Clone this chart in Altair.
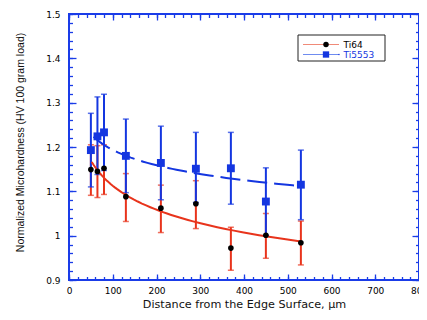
import altair as alt
import pandas as pd

# ---- data ----
dist = [50, 65, 80, 130, 210, 290, 370, 450, 530]

ti64 = [1.149, 1.145, 1.152, 1.088, 1.062, 1.072, 0.972, 1.001, 0.984]
ti64_lo = [1.091, 1.086, 1.093, 1.032, 1.007, 1.016, 0.922, 0.949, 0.934]
ti64_hi = [1.205, 1.203, 1.205, 1.140, 1.114, 1.124, 1.019, 1.050, 1.033]

ti5553 = [1.193, 1.224, 1.233, 1.180, 1.164, 1.151, 1.152, 1.077, 1.115]
ti5553_lo = [1.110, 1.138, 1.147, 1.097, 1.081, 1.075, 1.071, 1.001, 1.036]
ti5553_hi = [1.276, 1.313, 1.319, 1.263, 1.247, 1.233, 1.233, 1.153, 1.193]

names = ["Ti64", "Ti5553"]

x_major = [0, 100, 200, 300, 400, 500, 600, 700, 800]
x_minor = list(range(0, 801, 20))
y_major = [0.9, 1.0, 1.1, 1.2, 1.3, 1.4, 1.5]
y_minor = [round(0.9 + 0.02 * i, 2) for i in range(31)]

BLUE = "#1436e0"
RED = "#e8341c"
FRAME = "#1a3ce8"

df64 = pd.DataFrame({"x": dist, "y": ti64, "lo": ti64_lo, "hi": ti64_hi})
df55 = pd.DataFrame({"x": dist, "y": ti5553, "lo": ti5553_lo, "hi": ti5553_hi})

xscale = alt.Scale(domain=[0, 800], nice=False, zero=False)
yscale = alt.Scale(domain=[0.9, 1.5], nice=False, zero=False)


def ax(orient, values, size, labels, **kw):
    return alt.Axis(orient=orient, values=values,
                    tickSize=alt.ExprRef(expr=str(-size)),
                    labels=labels, domain=False, grid=False, ticks=True,
                    tickColor=FRAME, tickWidth=1.3, **kw)


ax_bottom = ax("bottom", x_major, 6, True, labelPadding=12, labelFlush=False,
               labelFont="DejaVu Sans", labelFontSize=9, labelColor="black",
               title="Distance from the Edge Surface, \u03bcm",
               titleFont="DejaVu Sans", titleFontSize=11.2, titleFontWeight="normal",
               titleColor="#111111", titleY=18, titleBaseline="top")
ax_left = ax("left", y_major, 7, True, labelPadding=16, format="~g", labelFlush=False,
             labelFont="DejaVu Sans", labelFontSize=9, labelColor="black",
             title="Normalized Microhardness (HV 100 gram load)",
             titleFont="Liberation Sans", titleFontSize=10.5, titleFontWeight="normal",
             titleColor="#111111", titleX=-46, titleY=128, titleAngle=270,
             titleAlign="center", titleBaseline="alphabetic")
ax_bottom_min = ax("bottom", x_minor, 3.5, False, title=None)
ax_left_min = ax("left", y_minor, 3.5, False, title=None)
ax_top = ax("top", x_major, 6, False, title=None)
ax_right = ax("right", y_major, 7, False, title=None)
ax_top_min = ax("top", x_minor, 3.5, False, title=None)
ax_right_min = ax("right", y_minor, 3.5, False, title=None)


def X(field, axis=None):
    return alt.X(f"{field}:Q", scale=xscale, axis=axis)


def Y(field, axis=None):
    return alt.Y(f"{field}:Q", scale=yscale, axis=axis)


# error bars
red_rule = alt.Chart(df64).mark_rule(color=RED, strokeWidth=2).encode(
    x=X("x", ax_bottom), y=Y("lo", ax_left), y2="hi")
red_cap_lo = alt.Chart(df64).mark_tick(orient="horizontal", color=RED, size=6, thickness=1.5).encode(
    x=X("x", ax_top), y=Y("lo", ax_right))
red_cap_hi = alt.Chart(df64).mark_tick(orient="horizontal", color=RED, size=6, thickness=1.5).encode(
    x=X("x"), y=Y("hi"))

blue_rule = alt.Chart(df55).mark_rule(color=BLUE, strokeWidth=2).encode(
    x=X("x", ax_bottom_min), y=Y("lo", ax_left_min), y2="hi")
blue_cap_lo = alt.Chart(df55).mark_tick(orient="horizontal", color=BLUE, size=6, thickness=1.5).encode(
    x=X("x", ax_top_min), y=Y("lo", ax_right_min))
blue_cap_hi = alt.Chart(df55).mark_tick(orient="horizontal", color=BLUE, size=6, thickness=1.5).encode(
    x=X("x"), y=Y("hi"))

# power-law fits
red_fit = alt.Chart(df64).transform_regression(
    "x", "y", method="pow", extent=[52, 530]
).mark_line(color=RED, strokeWidth=2).encode(x=X("x"), y=Y("y"))
blue_fit = alt.Chart(df55).transform_regression(
    "x", "y", method="pow", extent=[56, 530]
).mark_line(color=BLUE, strokeWidth=2, strokeDash=[20, 7]).encode(x=X("x"), y=Y("y"))

# markers
black_pts = alt.Chart(df64).mark_point(shape="circle", filled=True, color="black",
                                       size=32, opacity=1).encode(x=X("x"), y=Y("y"))
blue_pts = alt.Chart(df55).mark_square(color=BLUE, size=62, opacity=1).encode(
    x=X("x"), y=Y("y"))

# legend (box + samples), text from names
leg = pd.DataFrame({"name": names})
leg_box = alt.Chart(leg).transform_filter(alt.datum.name == names[0]).mark_rect(
    fill="white", stroke="#222222", strokeWidth=1).encode(
    x=alt.value(229), x2=alt.value(316), y=alt.value(21), y2=alt.value(47))
leg_items = []
for name, yy, lcol, mcol, shape, tcol in [
        (names[0], 30.5, "#f08a78", "black", "circle", "black"),
        (names[1], 40.5, "#6f8cf0", BLUE, "square", BLUE)]:
    base = alt.Chart(leg).transform_filter(alt.datum.name == name)
    leg_items.append(base.mark_rule(color=lcol, strokeWidth=1.2).encode(
        x=alt.value(234), x2=alt.value(270), y=alt.value(yy)))
    leg_items.append(base.mark_point(shape=shape, filled=True, color=mcol,
                                     size=30 if shape == "circle" else 40, opacity=1).encode(
        x=alt.value(257), y=alt.value(yy)))
    leg_items.append(base.mark_text(align="left", baseline="middle", font="DejaVu Sans",
                                    fontSize=9, color=tcol).encode(
        x=alt.value(274.5), y=alt.value(yy + 0.5), text="name:N"))
dot = alt.Chart(leg).transform_filter(alt.datum.name == names[1]).mark_point(
    shape="circle", filled=True, color=BLUE, size=2, opacity=1).encode(
    x=alt.value(270), y=alt.value(40.5))

chart = alt.layer(
    red_rule, red_cap_lo, red_cap_hi,
    blue_rule, blue_cap_lo, blue_cap_hi,
    red_fit, blue_fit, black_pts, blue_pts,
    leg_box, *leg_items, dot
).resolve_axis(x="independent", y="independent").properties(
    width=350, height=266,
    autosize=alt.AutoSizeParams(type="none"),
    padding={"left": 61, "top": 6, "right": 0, "bottom": 31},
).configure_view(stroke=FRAME, strokeWidth=2)

chart.save("out.html", embed_options={"renderer": "svg", "actions": False})
